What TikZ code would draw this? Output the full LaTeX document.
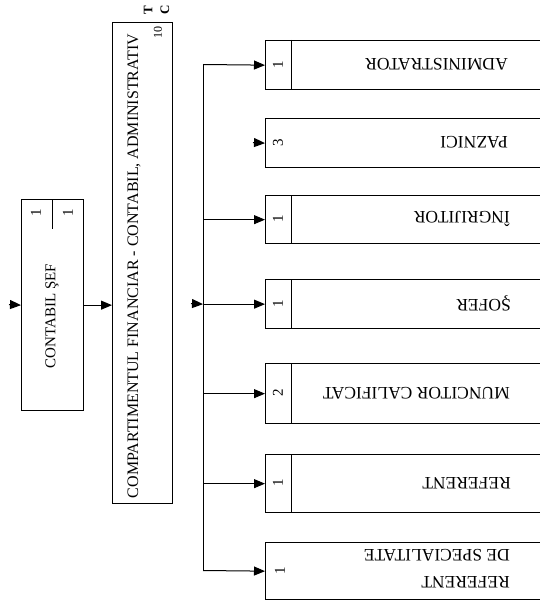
\documentclass[tikz,border=0pt]{standalone}
\usepackage{fontspec}
\setmainfont{Liberation Serif}
\usetikzlibrary{arrows.meta}
\begin{document}
\begin{tikzpicture}[x=1pt,y=-1pt,
  box/.style={draw, line width=1.3pt, rectangle, inner sep=0pt, anchor=north west},
  rbox/.style={box, minimum width=300pt},
  conn/.style={line width=1pt, -{Triangle[length=11pt,width=9pt]}},
  bus/.style={line width=1pt},
  divl/.style={line width=1pt},
  vtxt/.style={font=\fontsize{16}{18}\selectfont, rotate=90, inner sep=0pt},
  rtxt/.style={font=\fontsize{17.5}{27}\selectfont, rotate=180, anchor=west, align=left, inner sep=0pt},
  num/.style={font=\fontsize{15}{17}\selectfont, rotate=90, inner sep=0pt},
  tc/.style={font=\bfseries\fontsize{13}{15}\selectfont, rotate=90, inner sep=0pt}]
\useasboundingbox (0,0) rectangle (540,602);
\clip (0,0) rectangle (540,602);

% left boxes
\node[box, minimum width=62pt, minimum height=211pt] (cs) at (21,199) {};
\node[box, minimum width=60pt, minimum height=481pt] (mid) at (112,22) {};
\node[vtxt, font=\fontsize{15}{17}\selectfont] (cst) at (52,316) {CONTABIL ŞEF};
\node[vtxt] (midt) at (134,266) {COMPARTIMENTUL FINANCIAR - CONTABIL, ADMINISTRATIV};
\node[num] (csn1) at (36,213) {1};
\node[num] (csn2) at (68,213) {1};
\draw[divl] (cs.north) -- ++(0,30);
\node[num, font=\fontsize{12}{14}\selectfont] (midn) at (158,32) {10};
\node[tc] (lt) at (148,10) {T};
\node[tc] (lc) at (165,10) {C};

% right boxes
\node[rbox, minimum height=49pt] (adm) at (265,40) {};
\node[rbox, minimum height=49pt] (paz) at (265,118) {};
\node[rbox, minimum height=48pt] (ing) at (265,195) {};
\node[rbox, minimum height=49pt] (sof) at (265,279) {};
\node[rbox, minimum height=60pt] (mun) at (265,363) {};
\node[rbox, minimum height=58pt] (ref) at (265,454) {};
\node[rbox, minimum height=57pt] (rsp) at (265,542) {};

% cell dividers
\foreach \b in {adm,ing,sof,mun,ref}
  \draw[divl] ([xshift=26.5pt]\b.north west) -- ([xshift=26.5pt]\b.south west);

% texts
\node[rtxt] (admt) at (508,64.5) {ADMINISTRATOR};
\node[rtxt] (pazt) at (508,142.5) {PAZNICI};
\node[rtxt] (ingt) at (510,219) {ÎNGRIJITOR};
\node[rtxt] (soft) at (511,303.5) {ŞOFER};
\node[rtxt] (munt) at (510,393) {MUNCITOR CALIFICAT};
\node[rtxt] (reft) at (511,483) {REFERENT};
\node[rtxt] (rspt) at (510,569) {REFERENT\\DE SPECIALITATE};

\node[num] (admn) at (278,64.5) {1};
\node[num] (pazn) at (278,142.5) {3};
\node[num] (ingn) at (278,219) {1};
\node[num] (sofn) at (278,303.5) {1};
\node[num] (munn) at (278,393) {2};
\node[num] (refn) at (278,483) {1};
\node[num] (rspn) at (280,570.5) {1};

% bus and connectors
\coordinate (bt) at (203,64.5);
\coordinate (bb) at (203,570.5);
\draw[bus] (bt) -- (bb);
\draw[conn] (bt) -- (adm.west);
\coordinate (pazs) at (253,142.5);
\draw[conn] (pazs) -- (paz.west);
\draw[conn] (bt |- ing.west) -- (ing.west);
\draw[conn] (bt |- sof.west) -- (sof.west);
\draw[conn] (bt |- mun.west) -- (mun.west);
\draw[conn] (bt |- ref.west) -- (ref.west);
\draw[conn] (bb) -- (rsp.west);

\coordinate (mids) at (191,303.5);
\draw[conn] (mids) -- (bt |- sof.west);
\draw[conn] (cs.east) -- (cs.east -| mid.west);
\coordinate (csin) at (9,304.5);
\draw[conn] (csin) -- (cs.west);
\end{tikzpicture}
\end{document}
